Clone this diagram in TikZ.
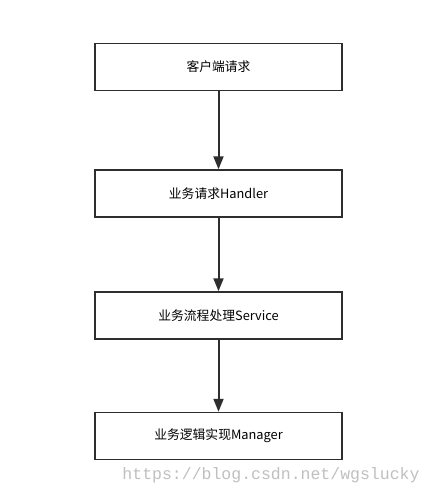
\documentclass[tikz,border=0pt]{standalone}
\usepackage{fontspec}
\setmainfont{Noto Sans CJK SC}
\newfontfamily\markfont{Liberation Mono}
\usetikzlibrary{arrows.meta}
\definecolor{boxline}{HTML}{2E2E2E}
\tikzset{
    every node/.style={rectangle, draw=boxline, line width=1.5pt, minimum width=247pt,
    	minimum height=47pt, font=\fontsize{12.8pt}{15pt}\selectfont}
}
\tikzset{
    flow/.style={line width=2pt, draw=boxline,
    	-{Triangle[width=10pt,length=13pt]}}
}

\begin{document}
\begin{tikzpicture}[x=1pt, y=-1pt]
  \useasboundingbox (0,0) rectangle (432,495);
  \node (0) at (218.5, 67) {客户端请求};
  \node (1) at (218.5, 193.5) {业务请求Handler};
  \node (2) at (218.5, 315.5) {业务流程处理Service};
  \node (3) at (218.5, 436) {业务逻辑实现Manager};

  \draw (0) edge [flow] (1); \draw (1) edge [flow] (2); \draw (2) edge [flow] (3);

  % watermark
  \node (w) [draw=none, minimum width=0pt, minimum height=0pt, text=black!25,
  	font=\markfont\fontsize{16.5pt}{18pt}\selectfont] at (271, 475) {https://blog.csdn.net/wgslucky};
\end{tikzpicture}
\end{document}
